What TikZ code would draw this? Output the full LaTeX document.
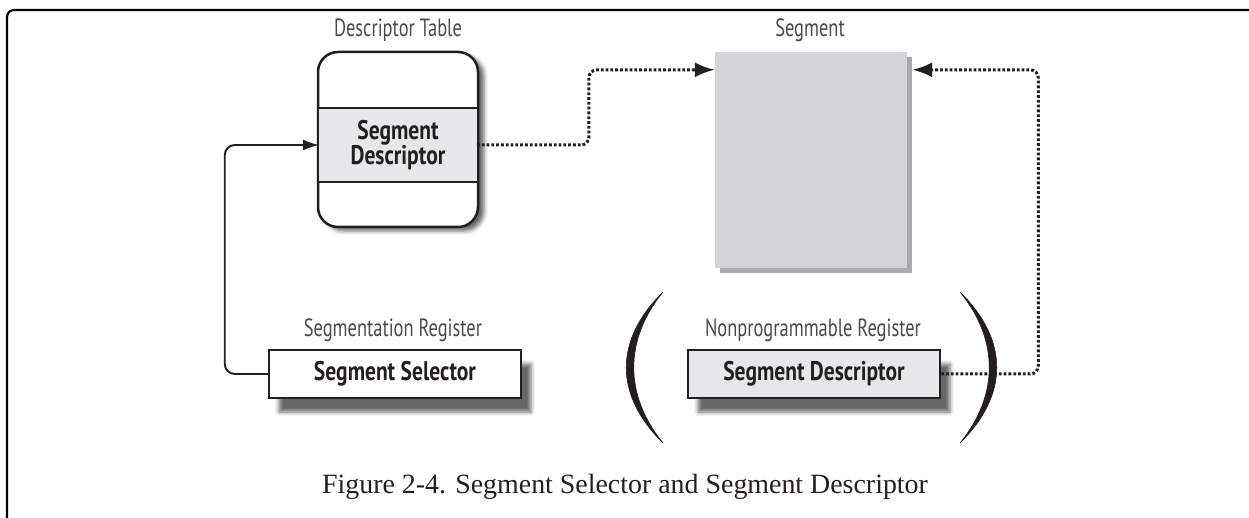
\documentclass[tikz,border=0pt]{standalone}
\usepackage{fontspec}
\setmainfont{Liberation Serif}
\newfontfamily\df[FakeStretch=0.74]{PT Sans}
\newfontfamily\dfb[FakeStretch=0.8]{PT Sans Bold}
\usetikzlibrary{arrows.meta,shadows,shadows.blur,calc}
\definecolor{bandgray}{HTML}{E6E7E8}
\definecolor{seggray}{HTML}{D3D4D6}
\definecolor{shadgray}{HTML}{A7A9AC}
\definecolor{labelgray}{HTML}{4A4A4C}
\definecolor{ink}{HTML}{231F20}
\tikzset{
  lbl/.style={font=\df\fontsize{25}{27}\selectfont, text=labelgray, inner sep=0pt},
  boldtxt/.style={font=\dfb\fontsize{27}{27}\selectfont, text=ink},
  tablebox/.style={draw=ink, line width=2.5bp, fill=white, rounded corners=20bp,
    minimum width=160bp, minimum height=175bp, inner sep=0pt,
    blur shadow={shadow xshift=6bp, shadow yshift=-4bp, shadow blur radius=4bp, shadow opacity=60}},
  bandbox/.style={fill=bandgray, minimum width=157.5bp, minimum height=74bp, inner sep=0pt, align=center},
  segbox/.style={fill=seggray, minimum width=192bp, minimum height=216bp, inner sep=0pt,
    copy shadow={shadow xshift=5bp, shadow yshift=-5bp, fill=shadgray, draw=none}},
  regbox/.style={draw=ink, line width=2.5bp, minimum width=252bp, minimum height=48bp, inner sep=0pt,
    blur shadow={shadow xshift=10bp, shadow yshift=-14bp, shadow blur radius=4bp, shadow opacity=60}},
  dotarrow/.style={draw=ink, line width=3bp, dash pattern=on 2.8bp off 2bp, rounded corners=8bp,
    -{Latex[length=20bp,width=15bp]}},
  solidarrow/.style={draw=ink, line width=1.9bp, rounded corners=10bp, -{Latex[length=16bp,width=11bp]}},
  paren/.style={fill=ink, draw=ink, line width=0.6bp},
}
\begin{document}
\begin{tikzpicture}[x=1bp,y=-1bp]
\useasboundingbox (0,0) rectangle (1249,518);
% frame
\draw[line width=2.2bp, rounded corners=7bp] (7,519) -- (7,10) -- (1250,10);

% descriptor table
\node[lbl] (tlabel) at (398,30) {Descriptor Table};
\node[tablebox] (table) at (398,139.5) {};
\node[bandbox, boldtxt] (band) at (398,145) {Segment\\[-2bp]Descriptor};
\draw[draw=ink, line width=2.5bp] (table.west |- band.north) -- (table.east |- band.north);
\draw[draw=ink, line width=2.5bp] (table.west |- band.south) -- (table.east |- band.south);

% segment
\node[lbl] (slabel) at (810,30) {Segment};
\node[segbox] (seg) at (811,160) {};
\coordinate (segin) at ($(seg.north west)+(0,18)$);
\coordinate (segout) at ($(seg.north east)+(5,18)$);

% segmentation register
\node[lbl] (rlabel) at (393,330) {Segmentation Register};
\node[regbox, fill=white, boldtxt] (sel) at (395,374) {Segment Selector};

% nonprogrammable register
\node[lbl] (nlabel) at (813,330) {Nonprogrammable Register};
\node[regbox, fill=bandgray, boldtxt] (npr) at (814,374) {Segment Descriptor};

% parentheses
\path[paren] (663,292) .. controls (614,340) and (614,395) .. (663,443)
   .. controls (624,395) and (624,340) .. (663,292) -- cycle;
\path[paren] (960,292) .. controls (1009,340) and (1009,395) .. (960,443)
   .. controls (999,395) and (999,340) .. (960,292) -- cycle;

% connectors
\draw[solidarrow] (sel.west) -- ++(-43,0) |- (band.west);
\draw[dotarrow] (band.east) -- ++(112,0) |- (segin);
\draw[dotarrow] (npr.east) -- ++(97,0) |- (segout);

% caption
\node[font=\fontsize{28}{32}\selectfont, text=ink] (cap) at (625,487) {Figure 2-4. Segment Selector and Segment Descriptor};
\end{tikzpicture}
\end{document}
